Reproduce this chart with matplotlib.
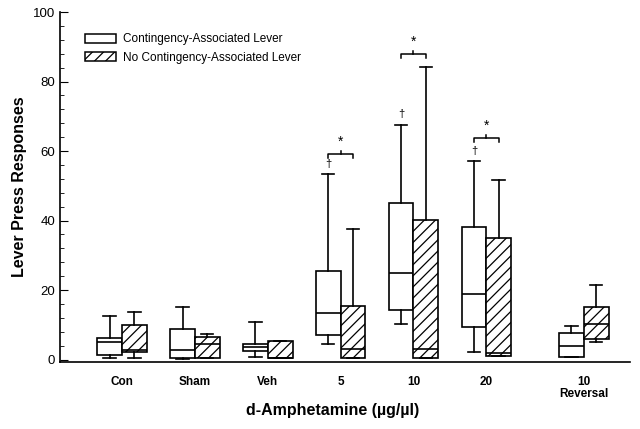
import matplotlib
matplotlib.use('Agg')
import matplotlib.pyplot as plt
from matplotlib.patches import Patch

plt.rcParams['font.family'] = ['Liberation Sans', 'DejaVu Sans']
plt.rcParams['hatch.linewidth'] = 0.9

groups = ['Con', 'Sham', 'Veh', '5', '10', '20', '10\nReversal']
positions = [1, 2, 3, 4, 5, 6, 7.34]

# Contingency-associated lever
ca_whislo = [0.4, 0.3, 0.7, 4.6, 10.3, 2.1, 0.7]
ca_q1 = [1.2, 0.4, 2.6, 7.2, 14.4, 9.4, 0.7]
ca_med = [5.2, 2.9, 3.6, 13.3, 24.9, 19.0, 3.8]
ca_q3 = [6.2, 8.8, 4.5, 25.4, 45.0, 38.1, 7.8]
ca_whishi = [12.6, 15.0, 10.9, 53.4, 67.6, 57.0, 9.6]

# No contingency-associated lever
nc_whislo = [0.4, 0.4, 0.4, 0.5, 0.5, 1.0, 5.2]
nc_q1 = [2.3, 0.4, 0.4, 0.5, 0.5, 1.0, 5.9]
nc_med = [2.9, 4.5, 0.4, 3.1, 3.1, 1.9, 10.3]
nc_q3 = [9.9, 6.5, 5.5, 15.3, 40.1, 35.1, 15.0]
nc_whishi = [13.8, 7.5, 5.5, 37.7, 84.1, 51.7, 21.4]

# significance marks: group index, dagger y, bracket y
sig_groups = [3, 4, 5]
dagger_y = [56.3, 70.6, 60.0]
bracket_y = [59.1, 88.0, 63.7]


def make_stats(lo, q1, med, q3, hi):
    return [dict(whislo=a, q1=b, med=c, q3=d, whishi=e, fliers=[])
            for a, b, c, d, e in zip(lo, q1, med, q3, hi)]


fig = plt.figure(figsize=(6.4, 4.29), dpi=100)
ax = fig.add_axes([0.094, 0.156, 0.89, 0.816])

w = 0.34
off = 0.17
lw = 1.2
kw = dict(widths=w, patch_artist=True, showfliers=False,
          boxprops=dict(facecolor='white', edgecolor='black', linewidth=lw),
          medianprops=dict(color='black', linewidth=lw),
          whiskerprops=dict(color='black', linewidth=lw),
          capprops=dict(color='black', linewidth=lw),
          capwidths=0.17)

ax.bxp(make_stats(ca_whislo, ca_q1, ca_med, ca_q3, ca_whishi),
       positions=[p - off for p in positions], **kw)
b2 = ax.bxp(make_stats(nc_whislo, nc_q1, nc_med, nc_q3, nc_whishi),
            positions=[p + off for p in positions], **kw)
for box in b2['boxes']:
    box.set_hatch('///')

for g, dy, by in zip(sig_groups, dagger_y, bracket_y):
    p = positions[g]
    ax.text(p - off, dy, '\u2020', ha='center', va='center', fontsize=8)
    ax.plot([p - off, p - off, p + off, p + off], [by - 1.2, by, by, by - 1.2],
            color='black', lw=1.1)
    ax.plot([p, p], [by, by + 0.9], color='black', lw=1.1)
    ax.text(p, by + 1.5, '*', ha='center', va='bottom', fontsize=10)

ax.set_xlim(0.15, 7.97)
ax.set_ylim(-0.7, 100)
ax.set_xticks(positions)
ax.set_xticklabels(groups, fontsize=8.5, fontweight='bold', linespacing=1.0)
ax.tick_params(axis='x', length=0, pad=10)
ax.set_yticks([0, 20, 40, 60, 80, 100])
ax.set_yticks(range(0, 101, 4), minor=True)
ax.tick_params(axis='y', direction='in', length=6, labelsize=9.5)
ax.tick_params(axis='y', which='minor', direction='in', length=3)
ax.spines['top'].set_visible(False)
ax.spines['right'].set_visible(False)
ax.spines['left'].set_bounds(-0.7, 100)
ax.spines['left'].set_linewidth(1.2)
ax.spines['bottom'].set_linewidth(1.2)

ax.set_ylabel('Lever Press Responses', fontsize=11.5, fontweight='bold', labelpad=4)
fig.text(0.52, 0.044, 'd-Amphetamine (\u00b5g/\u00b5l)', ha='center', va='center',
         fontsize=11.5, fontweight='bold')

handles = [Patch(facecolor='white', edgecolor='black', lw=1.1),
           Patch(facecolor='white', edgecolor='black', lw=1.1, hatch='///')]
ax.legend(handles, ['Contingency-Associated Lever', 'No Contingency-Associated Lever'],
          loc='upper left', bbox_to_anchor=(0.025, 0.97), frameon=False,
          fontsize=8.5, handlelength=2.6, handleheight=0.8, handletextpad=0.6,
          labelspacing=0.55)

fig.savefig('out.png', dpi=100)
